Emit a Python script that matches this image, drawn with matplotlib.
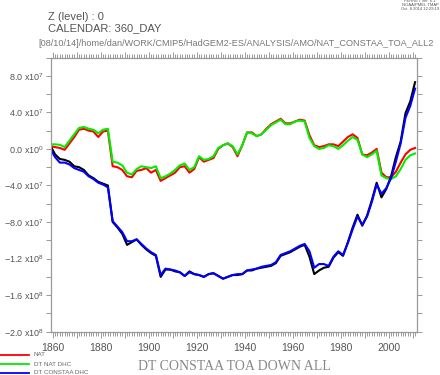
import numpy as np
import matplotlib.pyplot as plt
from matplotlib.lines import Line2D
from matplotlib.ticker import MultipleLocator, FixedLocator, FuncFormatter

plt.rcParams['font.family'] = ['Liberation Sans', 'DejaVu Sans']
plt.rcParams['mathtext.fontset'] = 'custom'
plt.rcParams['mathtext.rm'] = 'Liberation Sans'

# annual series sampled every 2 years, values in units of 1e7
years = np.arange(1859, 2012, 2)

nat = [0.3, 0.2, 0.1, -0.1, 0.6, 1.3, 2.1, 2.2, 2.0, 1.9, 1.3, 1.9, 2.0,
       -1.9, -2.0, -2.3, -3.0, -3.1, -2.4, -2.3, -2.1, -2.6, -2.3, -3.5,
       -3.2, -2.9, -2.6, -2.0, -1.9, -2.6, -2.2, -0.9, -1.4, -1.2, -1.0,
       0.0, 0.4, 0.6, 0.2, -0.8, 0.4, 1.8, 1.8, 1.4, 1.6, 2.2, 2.7, 3.0,
       3.3, 2.8, 2.8, 3.0, 3.2, 3.1, 1.5, 0.4, 0.2, 0.3, 0.5, 0.5, 0.3,
       0.8, 1.3, 1.6, 1.2, -0.6, -0.7, -0.4, 0.0, -2.6, -3.1, -3.1, -2.5,
       -1.5, -0.6, -0.1, 0.1]

dt_nat_dhc = [0.5, 0.5, 0.45, 0.2, 0.9, 1.6, 2.3, 2.4, 2.2, 2.1, 1.7, 2.1, 2.2,
              -1.4, -1.5, -1.8, -2.6, -2.8, -2.2, -1.9, -2.0, -2.1, -1.9, -3.2,
              -3.0, -2.7, -2.3, -1.8, -1.6, -2.3, -2.0, -0.8, -1.2, -1.1, -0.8,
              0.1, 0.4, 0.6, 0.3, -0.6, 0.4, 1.8, 1.7, 1.4, 1.6, 2.1, 2.6, 2.9,
              3.2, 2.7, 2.7, 3.0, 3.1, 3.0, 1.2, 0.3, 0.0, 0.1, 0.4, 0.3, 0.0,
              0.4, 0.9, 1.3, 1.0, -0.6, -0.9, -0.6, -0.2, -2.9, -3.2, -3.3, -3.0,
              -2.2, -1.2, -0.7, -0.5]

dt_constaa_dhc = [0.0, -0.9, -1.5, -1.5, -1.7, -2.1, -2.3, -2.5, -3.0, -3.3, -3.7,
                  -3.9, -4.2, -7.9, -8.5, -9.1, -10.1, -10.1, -9.9, -10.4, -10.9,
                  -11.3, -11.6, -13.8, -13.1, -13.2, -13.3, -13.5, -13.9, -13.5,
                  -13.7, -13.8, -14.0, -13.7, -13.6, -13.9, -14.2, -14.0, -13.8,
                  -13.7, -13.7, -13.3, -13.2, -13.1, -12.9, -12.8, -12.7, -12.4,
                  -11.6, -11.4, -11.2, -10.9, -10.6, -10.4, -11.2, -13.0, -12.6,
                  -12.6, -12.8, -11.8, -11.2, -11.6, -10.3, -8.8, -7.4, -8.3, -7.4,
                  -5.8, -3.9, -4.9, -4.3, -3.2, -1.4, 0.6, 3.4, 4.7, 6.6]

constaa_all = [0.4, -0.6, -1.1, -1.2, -1.4, -1.9, -2.0, -2.3, -2.9, -3.2, -3.6,
               -3.8, -4.0, -8.0, -8.6, -9.3, -10.5, -10.2, -9.9, -10.5, -11.0,
               -11.4, -11.7, -14.0, -13.2, -13.2, -13.4, -13.5, -13.9, -13.4,
               -13.7, -13.8, -14.0, -13.7, -13.6, -13.9, -14.2, -14.0, -13.8,
               -13.8, -13.7, -13.3, -13.3, -13.1, -13.0, -12.9, -12.8, -12.5,
               -11.7, -11.5, -11.3, -11.0, -10.7, -10.5, -11.8, -13.7, -13.3,
               -13.0, -12.9, -11.9, -11.3, -11.7, -10.2, -8.6, -7.2, -8.4, -7.3,
               -5.6, -3.7, -5.3, -4.4, -3.0, -0.9, 0.8, 3.9, 5.2, 7.3]

ytick_vals = [8e7, 4e7, 0, -4e7, -8e7, -1.2e8, -1.6e8, -2.0e8]
ytick_text = ['8.0 x10$^7$', '4.0 x10$^7$', '0.0 x10$^0$', '\u22124.0 x10$^7$',
              '\u22128.0 x10$^7$', '\u22121.2 x10$^8$', '\u22121.6 x10$^8$',
              '\u22122.0 x10$^8$']
xtick_years = [1860, 1880, 1900, 1920, 1940, 1960, 1980, 2000]

W, H = 440, 375
fig = plt.figure(figsize=(W / 100, H / 100), dpi=100)
ax = fig.add_axes([50.5 / W, 1 - 331.7 / H, 366 / W, 274.2 / H])

ax.plot(years, np.array(nat) * 1e7, color='#ff0000', lw=1.5)
ax.plot(years, np.array(dt_nat_dhc) * 1e7, color='#00ee00', lw=1.5)
ax.plot(years, np.array(constaa_all) * 1e7, color='black', lw=1.5)
ax.plot(years, np.array(dt_constaa_dhc) * 1e7, color='#0000ff', lw=1.5)

ax.set_xlim(1859.1, 2011.6)
ax.set_ylim(-2e8, 1e8)

# x axis ticks
ax.xaxis.set_major_locator(FixedLocator(range(1860, 2012, 10)))
ax.xaxis.set_major_formatter(FuncFormatter(
    lambda v, p: str(int(round(v))) if int(round(v)) in xtick_years else ''))
ax.xaxis.set_minor_locator(MultipleLocator(1))

# y axis ticks
ax.yaxis.set_major_locator(FixedLocator(ytick_vals))
ax.yaxis.set_major_formatter(FuncFormatter(
    lambda v, p: ytick_text[p] if p is not None and p < len(ytick_text) else ''))
ax.yaxis.set_minor_locator(MultipleLocator(2e7))

axis_col = '#999999'
for s in ax.spines.values():
    s.set_color(axis_col)
    s.set_linewidth(0.9)
ax.tick_params(which='both', direction='out', top=True, right=True,
               color=axis_col, width=0.7)
ax.tick_params(axis='x', which='major', length=4.5, pad=3.5, labelsize=7.5,
               labelcolor='#555555')
ax.tick_params(axis='x', which='minor', length=3)
ax.tick_params(axis='y', which='both', length=3.6)
ax.tick_params(axis='y', which='major', pad=1, labelsize=6.5, labelcolor='#555555')

# header texts
fig.text(48 / W, 1 - 16.5 / H, 'Z (level) : 0', fontsize=8, color='#555555',
         va='center', ha='left')
fig.text(48 / W, 1 - 28.5 / H, 'CALENDAR: 360_DAY', fontsize=8, color='#555555',
         va='center', ha='left')
fig.text(236 / W, 1 - 44 / H,
         '[08/10/14]/home/dan/WORK/CMIP5/HadGEM2-ES/ANALYSIS/AMO/NAT_CONSTAA_TOA_ALL2',
         fontsize=6.6, color='#777777', va='center', ha='center')
fig.text(420 / W, 1 - 5 / H, 'FERRET Ver. 6.1\nNOAA/PMEL TMAP\nOct  8 2014 12:29:19',
         fontsize=3, color='#555555', va='center', ha='center', linespacing=1.1)

# legend keys
leg = [('NAT', '#ff0000', 355), ('DT NAT DHC', '#00ee00', 364),
       ('DT CONSTAA DHC', '#0000ff', 372.5)]
for label, col, yp in leg:
    fig.add_artist(Line2D([0, 29 / W], [1 - yp / H, 1 - yp / H], color=col, lw=1.3))
    fig.text(34 / W, 1 - yp / H, label, fontsize=4.5, color='#666666',
             va='center', ha='left')

fig.text(234 / W, 1 - 367 / H, 'DT CONSTAA TOA DOWN ALL', fontsize=10,
         family='Liberation Serif', color='#888888', ha='center', va='center')

fig.savefig('out.png', dpi=100)
